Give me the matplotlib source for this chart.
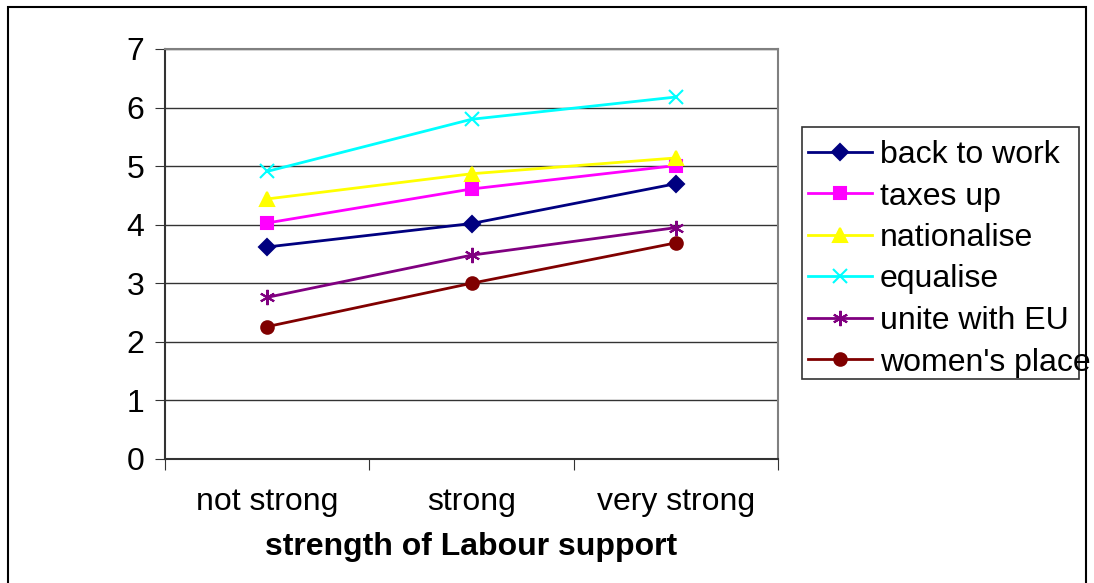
import numpy as np
import matplotlib.pyplot as plt
from matplotlib.patches import Rectangle

plt.rcParams['font.family'] = ['Liberation Sans', 'DejaVu Sans']

categories = ['not strong', 'strong', 'very strong']
back_to_work = [3.62, 4.02, 4.70]
taxes_up = [4.03, 4.61, 5.01]
nationalise = [4.44, 4.87, 5.14]
equalise = [4.91, 5.80, 6.18]
unite_with_eu = [2.76, 3.48, 3.95]
womens_place = [2.26, 3.00, 3.69]

series = [
    ('back to work', back_to_work, '#000080', 'D', 8),
    ('taxes up', taxes_up, '#FF00FF', 's', 9),
    ('nationalise', nationalise, '#FFFF00', '^', 10),
    ('equalise', equalise, '#00FFFF', 'x', 10),
    ('unite with EU', unite_with_eu, '#800080', (6, 2, 0), 11),
    ("women's place", womens_place, '#800000', 'o', 9),
]

fig = plt.figure(figsize=(10.94, 5.83), dpi=100)
ax = fig.add_axes([165/1094, 1-459/583, (778-165)/1094, (459-49)/583])

x = np.arange(len(categories)) + 0.5
for name, vals, col, mk, ms in series:
    ax.plot(x, vals, color=col, marker=mk, markersize=ms, linewidth=2,
            markeredgewidth=1.5, label=name)

ax.set_xlim(0, 3)
ax.set_ylim(0, 7)
ax.set_yticks(range(8))
ax.set_xticks([0, 1, 2, 3])
ax.set_xticklabels([])
ax.set_xticks(x, minor=True)
ax.set_xticklabels(categories, minor=True, fontsize=23)
ax.tick_params(axis='x', which='minor', length=0, pad=20)
ax.tick_params(axis='x', which='major', direction='out', length=8, color='#333333')
ax.tick_params(axis='y', direction='out', length=7, labelsize=23, pad=8, color='#333333')
ax.grid(axis='y', color='#333333', linewidth=1)
ax.set_axisbelow(True)
for s in ['top', 'right']:
    ax.spines[s].set_color('#808080')
    ax.spines[s].set_linewidth(1.5)
for s in ['left', 'bottom']:
    ax.spines[s].set_color('#333333')
    ax.spines[s].set_linewidth(1.5)
ax.set_xlabel('strength of Labour support', fontsize=23, fontweight='bold', labelpad=11)

# legend text runs past its box in the original, so draw the box by hand
leg = fig.legend(loc='upper left', bbox_to_anchor=(808/1094, 1-140/583),
                 fontsize=23, frameon=False, borderpad=0, labelspacing=0.36,
                 handlelength=2.0, handletextpad=0.25, borderaxespad=0)
fig.patches.append(Rectangle((802/1094, 1-379/583), (1079-802)/1094, (379-127)/583,
                             transform=fig.transFigure, fill=False,
                             edgecolor='#333333', linewidth=1.2, zorder=0))

fig.patches.append(Rectangle((8/1094, -0.01), (1086-8)/1094, 1-7/583+0.01,
                             transform=fig.transFigure, fill=False,
                             edgecolor='#000000', linewidth=1.5))

fig.savefig('out.png', dpi=100)
